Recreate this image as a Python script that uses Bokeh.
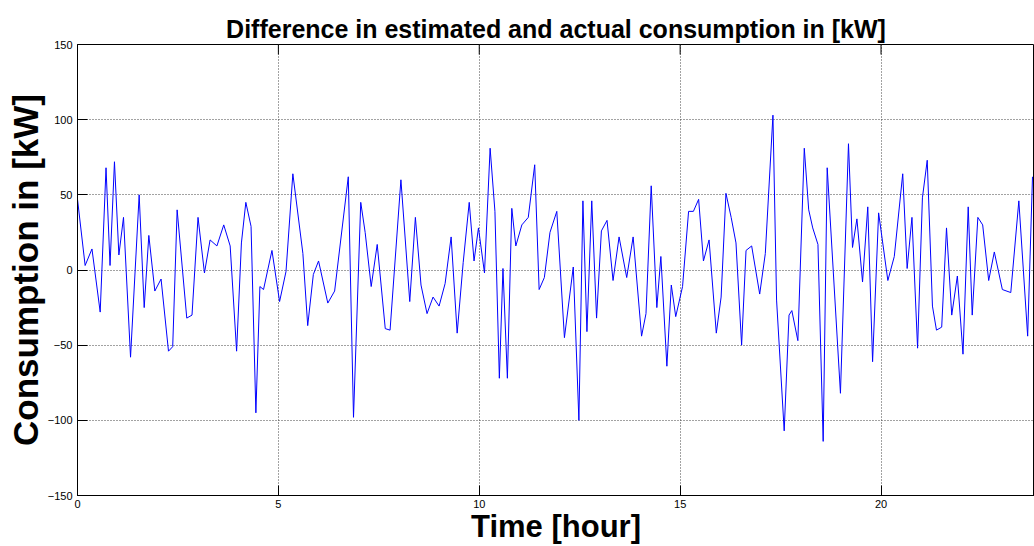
from bokeh.plotting import figure
from bokeh.models import Range1d, FixedTicker, ColumnDataSource
from bokeh.embed import file_html
from bokeh.resources import INLINE

title_text = "Difference in estimated and actual consumption in [kW]"
x_label = "Time [hour]"
y_label = "Consumption in [kW]"

x_ticks = [0, 5, 10, 15, 20]
y_ticks = [-150, -100, -50, 0, 50, 100, 150]

time_h = [0.0, 0.19, 0.36, 0.565, 0.71, 0.81, 0.92, 1.03, 1.145, 1.32, 1.535, 1.66, 1.775, 1.925,
          2.08, 2.265, 2.37, 2.48, 2.72, 2.85, 3.0, 3.16, 3.30, 3.47, 3.64, 3.80, 3.96, 4.08, 4.19,
          4.32, 4.44, 4.54, 4.63, 4.84, 5.03, 5.19, 5.36, 5.61, 5.73, 5.87, 6.0, 6.23, 6.40, 6.74,
          6.87, 7.05, 7.16, 7.31, 7.46, 7.66, 7.78, 8.05, 8.27, 8.41, 8.55, 8.70, 8.85, 9.0, 9.15,
          9.30, 9.45, 9.60, 9.75, 9.87, 9.98, 10.13, 10.27, 10.39, 10.50, 10.59, 10.70, 10.81, 10.91,
          11.06, 11.22, 11.38, 11.49, 11.62, 11.76, 11.93, 12.12, 12.34, 12.48, 12.58, 12.68, 12.80,
          12.92, 13.04, 13.18, 13.33, 13.48, 13.67, 13.83, 14.04, 14.15, 14.28, 14.42, 14.52, 14.67,
          14.78, 14.89, 15.06, 15.21, 15.33, 15.46, 15.58, 15.72, 15.90, 16.02, 16.14, 16.27, 16.39,
          16.53, 16.64, 16.78, 16.98, 17.12, 17.31, 17.40, 17.59, 17.71, 17.78, 17.93, 18.09, 18.20,
          18.30, 18.43, 18.56, 18.66, 18.99, 19.19, 19.29, 19.40, 19.54, 19.67, 19.79, 19.94, 20.17,
          20.33, 20.54, 20.65, 20.77, 20.91, 21.03, 21.15, 21.28, 21.38, 21.51, 21.63, 21.76, 21.90,
          22.04, 22.17, 22.27, 22.41, 22.53, 22.68, 22.82, 23.02, 23.23, 23.43, 23.65, 23.77]

diff_kw = [47, 3, 14, -28, 68, 3, 72, 10, 35, -58, 50, -25, 23, -14,
           -6, -54, -51, 40, -32, -30, 35, -2, 20, 16, 30, 16, -54, 18, 45,
           29, -95, -11, -13, 13, -21, -1, 64, 11, -37, -3, 6, -22, -14, 62,
           -98, 45, 25, -11, 17, -39, -40, 60, -21, 35, -10, -29, -18, -24, -9,
           22, -42, 5, 45, 6, 28, -2, 81, 39, -72, 1, -72, 41, 16,
           30, 35, 70, -13, -5, 25, 39, -45, 2, -100, 46, -41, 46,
           -32, 26, 33, -7, 22, -5, 22, -44, -29, 56, -25, 9, -64,
           -10, -31, -11, 39, 39, 47, 6, 20, -42, -18, 51, 35, 18,
           -50, 13, 16, -16, 11, 103, -20, -107, -30, -27, -47, 81, 40,
           28, 17, -114, 68, -82, 84, 15, 34, -8, 42, -61, 38, -7,
           9, 64, 1, 35, -52, 48, 73, -24, -40, -38, 28, -30, -4,
           -56, 42, -30, 35, 30, -7, 12, -13, -15, 46, -44, 62]

FONT = "Liberation Sans"

p = figure(width=1034, height=546, output_backend="svg", toolbar_location=None,
           x_range=Range1d(0, 23.82), y_range=Range1d(-150, 150),
           min_border_left=77, min_border_right=0, min_border_top=44, min_border_bottom=51)

p.background_fill_color = "white"
p.border_fill_color = "white"
p.outline_line_color = "black"
p.outline_line_width = 1

p.title.text = title_text
p.title.align = "center"
p.title.text_font = FONT
p.title.text_font_style = "bold"
p.title.text_font_size = "25px"
p.title.text_color = "black"
p.title.standoff = 3

for ax in (p.xaxis[0], p.yaxis[0]):
    ax.axis_line_color = "black"
    ax.major_tick_in = 10
    ax.major_tick_out = 0
    ax.minor_tick_line_color = None
    ax.major_tick_line_color = "black"
    ax.major_label_text_font = FONT
    ax.major_label_text_font_size = "11px"
    ax.major_label_text_color = "black"
    ax.axis_label_text_font = FONT
    ax.axis_label_text_font_style = "bold"
    ax.axis_label_text_color = "black"

p.xaxis.axis_label_text_font_size = "31px"
p.yaxis.axis_label_text_font_size = "35px"
p.xaxis.ticker = FixedTicker(ticks=x_ticks)
p.yaxis.ticker = FixedTicker(ticks=y_ticks)
p.xaxis.axis_label = x_label
p.yaxis.axis_label = y_label
p.xaxis.major_label_standoff = 4
p.yaxis.major_label_standoff = 5
p.xaxis.axis_label_standoff = -2
p.yaxis.axis_label_standoff = 0

p.xgrid.ticker = FixedTicker(ticks=x_ticks)
p.ygrid.ticker = FixedTicker(ticks=y_ticks)
for g in (p.xgrid[0], p.ygrid[0]):
    g.grid_line_color = "#444444"
    g.grid_line_dash = "1 2"
    g.grid_line_width = 1

# top-side inward ticks (MATLAB box style)
tick_len = 10 * 300 / 451
p.segment(x0=x_ticks, x1=x_ticks, y0=[150] * len(x_ticks), y1=[150 - tick_len] * len(x_ticks),
          line_color="black", line_width=1)

src = ColumnDataSource(data=dict(t=time_h, v=diff_kw))
p.line("t", "v", source=src, line_color="#0000ff", line_width=1)

open("out.html", "w").write(file_html(p, INLINE))
